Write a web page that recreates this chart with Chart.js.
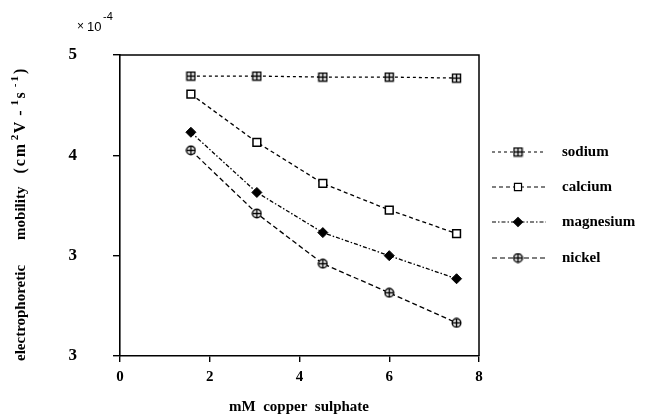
<!DOCTYPE html>
<html>
<head>
<meta charset="utf-8">
<script src="https://cdn.jsdelivr.net/npm/chart.js@4.4.0/dist/chart.umd.min.js"></script>
<style>
  html, body { margin: 0; padding: 0; background: #fff; }
  canvas { display: block; }
</style>
</head>
<body>
<canvas id="c" width="660" height="420"></canvas>
<script>
// ---- data ----
const copperMM = [1.58, 3.05, 4.52, 6.0, 7.5];
const sodium    = [4.79, 4.79, 4.78, 4.78, 4.77];
const calcium   = [4.61, 4.13, 3.72, 3.455, 3.22];
const magnesium = [4.23, 3.63, 3.23, 3.0, 2.77];
const nickel    = [4.05, 3.42, 2.92, 2.63, 2.33];
const seriesNames = ['sodium', 'calcium', 'magnesium', 'nickel'];
const xTickValues = [0, 2, 4, 6, 8];
const yTickValues = [2, 3, 4, 5];
const yTickLabels = ['3', '3', '4', '5'];

// ---- custom marker glyphs ----
function makeMarker(kind) {
  const s = 11;
  const c = document.createElement('canvas');
  c.width = s; c.height = s;
  const g = c.getContext('2d');
  g.strokeStyle = '#000';
  g.fillStyle = '#fff';
  g.lineWidth = 1.4;
  if (kind === 'boxcross') {
    g.fillRect(1.5, 1.5, 8, 8);
    g.strokeRect(1.5, 1.5, 8, 8);
    g.beginPath();
    g.moveTo(5.5, 1.5); g.lineTo(5.5, 9.5);
    g.moveTo(1.5, 5.5); g.lineTo(9.5, 5.5);
    g.stroke();
  } else if (kind === 'circlecross') {
    g.beginPath(); g.arc(5.5, 5.5, 4.3, 0, Math.PI * 2); g.fill(); g.stroke();
    g.beginPath();
    g.moveTo(5.5, 1.2); g.lineTo(5.5, 9.8);
    g.moveTo(1.2, 5.5); g.lineTo(9.8, 5.5);
    g.stroke();
  }
  return c;
}
const boxCross = makeMarker('boxcross');
const circleCross = makeMarker('circlecross');

function pts(ys) { return copperMM.map((x, i) => ({ x: x, y: ys[i] })); }

const datasets = [
  { label: seriesNames[0], data: pts(sodium), borderDash: [3, 3], pointStyle: boxCross,
    pointRadius: 5, pointBackgroundColor: '#fff', pointBorderWidth: 1.3 },
  { label: seriesNames[1], data: pts(calcium), borderDash: [4, 3], pointStyle: 'rect',
    pointRadius: 5.5, pointBackgroundColor: '#fff', pointBorderWidth: 1.5 },
  { label: seriesNames[2], data: pts(magnesium), borderDash: [4, 2, 1.5, 2], pointStyle: 'rectRot',
    pointRadius: 5, pointBackgroundColor: '#000', pointBorderWidth: 1 },
  { label: seriesNames[3], data: pts(nickel), borderDash: [5, 3], pointStyle: circleCross,
    pointRadius: 5, pointBackgroundColor: '#fff', pointBorderWidth: 1.3 }
].map(d => Object.assign({
  borderColor: '#000', borderWidth: 1.3, pointBorderColor: '#000',
  showLine: true, fill: false, tension: 0, pointHoverRadius: 5
}, d));

const SERIF = '"Liberation Serif", "Times New Roman", serif';

const decor = {
  id: 'decor',
  afterDraw(chart) {
    const ctx = chart.ctx;
    const a = chart.chartArea;
    ctx.save();
    // frame: top and right
    ctx.strokeStyle = '#000';
    ctx.lineWidth = 1.5;
    ctx.beginPath();
    ctx.moveTo(a.left, a.top); ctx.lineTo(a.right, a.top); ctx.lineTo(a.right, a.bottom);
    ctx.stroke();

    // multiplier label
    ctx.fillStyle = '#000';
    ctx.textBaseline = 'alphabetic';
    ctx.textAlign = 'left';
    ctx.font = '12px "Liberation Sans", Arial, sans-serif';
    ctx.fillText('×', 77, 30);
    ctx.font = '13px "Liberation Sans", Arial, sans-serif';
    ctx.fillText('10', 87, 31);
    ctx.font = '11px "Liberation Sans", Arial, sans-serif';
    ctx.fillText('-4', 103, 20);

    // x axis title
    ctx.font = 'bold 15px ' + SERIF;
    ctx.textAlign = 'center';
    ctx.fillText('mM  copper  sulphate', 299, 411);

    // y axis title (rotated, with superscripts)
    const pieces = [
      { t: 'electrophoretic', sup: false, gap: 0 },
      { t: 'mobility', sup: false, gap: 25 },
      { t: '(cm', sup: false, gap: 13, big: true },
      { t: '2', sup: true, gap: 1.5 },
      { t: 'V', sup: false, gap: 1.5, big: true },
      { t: '-', sup: false, gap: 4, big: true },
      { t: '1', sup: true, gap: 3 },
      { t: 's', sup: false, gap: 1.5, big: true },
      { t: '-', sup: true, gap: 3 },
      { t: '1', sup: true, gap: 2 },
      { t: ')', sup: false, gap: 2, big: true }
    ];
    ctx.translate(25, 361);
    ctx.rotate(-Math.PI / 2);
    ctx.textAlign = 'left';
    let px = 0;
    for (const p of pieces) {
      px += p.gap;
      ctx.font = (p.sup ? 'bold 11px ' : (p.big ? 'bold 16px ' : 'bold 15px ')) + SERIF;
      if (p.big) ctx.letterSpacing = '2px'; else ctx.letterSpacing = '0px';
      ctx.fillText(p.t, px, p.sup ? -7 : 0);
      px += ctx.measureText(p.t).width;
    }
    ctx.letterSpacing = '0px';
    ctx.restore();

    // legend
    ctx.save();
    const rows = [152, 187, 222, 258];
    chart.data.datasets.forEach((ds, i) => {
      const y = rows[i];
      ctx.strokeStyle = '#000';
      ctx.lineWidth = 1.2;
      ctx.setLineDash(ds.borderDash);
      ctx.beginPath(); ctx.moveTo(492, y); ctx.lineTo(546, y); ctx.stroke();
      ctx.setLineDash([]);
      ctx.fillStyle = ds.pointBackgroundColor;
      ctx.strokeStyle = '#000';
      Chart.helpers.drawPoint(ctx, {
        pointStyle: ds.pointStyle, radius: ds.pointRadius - 0.5, rotation: 0,
        borderWidth: ds.pointBorderWidth
      }, 518, y);
      ctx.fillStyle = '#000';
      ctx.font = 'bold 15px ' + SERIF;
      ctx.textAlign = 'left';
      ctx.textBaseline = 'middle';
      ctx.fillText(ds.label, 562, y);
    });
    ctx.restore();
  }
};

new Chart(document.getElementById('c'), {
  type: 'scatter',
  data: { datasets: datasets },
  options: {
    responsive: false,
    animation: false,
    events: [],
    layout: { padding: { left: 0, top: 55, right: 181, bottom: 0 } },
    plugins: { legend: { display: false }, tooltip: { enabled: false }, title: { display: false } },
    scales: {
      x: {
        type: 'linear', min: 0, max: 8,
        afterFit(s) { s.height = 64; },
        afterBuildTicks(s) { s.ticks = xTickValues.map(v => ({ value: v })); },
        border: { display: true, color: '#000', width: 1.6 },
        grid: { display: true, drawOnChartArea: false, drawTicks: true, tickLength: 6, color: '#000', lineWidth: 1.4 },
        ticks: { color: '#000', font: { family: SERIF, size: 15, weight: 'bold' }, padding: 6,
                 maxRotation: 0, callback: v => String(v) }
      },
      y: {
        type: 'linear', min: 2, max: 5,
        afterFit(s) { s.width = 120; },
        afterBuildTicks(s) { s.ticks = yTickValues.map(v => ({ value: v })); },
        border: { display: true, color: '#000', width: 1.6 },
        grid: { display: true, drawOnChartArea: false, drawTicks: true, tickLength: 7, color: '#000', lineWidth: 1.4 },
        ticks: { color: '#000', font: { family: SERIF, size: 17, weight: 'bold' }, padding: 36,
                 callback: v => yTickLabels[yTickValues.indexOf(v)] }
      }
    }
  },
  plugins: [decor]
});
</script>
</body>
</html>
